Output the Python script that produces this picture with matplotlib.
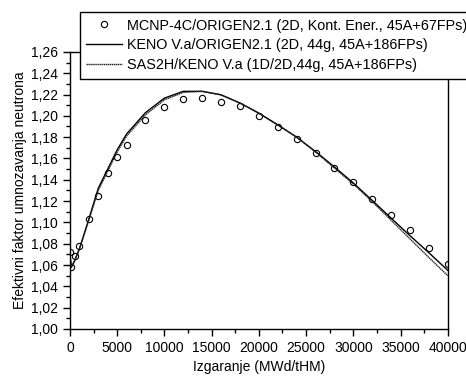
import matplotlib
matplotlib.use("Agg")
import matplotlib.pyplot as plt
from matplotlib.ticker import MultipleLocator, FuncFormatter

plt.rcParams['font.family'] = ['Liberation Sans', 'DejaVu Sans']

# burnup points (MWd/tHM)
burnup = [0, 150, 500, 1000, 2000, 3000, 4000, 5000, 6000, 8000, 10000, 12000,
          14000, 16000, 18000, 20000, 22000, 24000, 26000, 28000, 30000, 32000,
          34000, 36000, 38000, 40000]

# MCNP-4C/ORIGEN2.1
k_mcnp = [1.0726, 1.058, 1.0685, 1.078, 1.1035, 1.125, 1.146, 1.161, 1.173,
          1.196, 1.208, 1.216, 1.2166, 1.2134, 1.2088, 1.2002, 1.1897, 1.1785,
          1.165, 1.151, 1.1377, 1.1218, 1.107, 1.0925, 1.0758, 1.0607]

# KENO V.a/ORIGEN2.1
k_keno = [1.070, 1.058, 1.064, 1.075, 1.103, 1.132, 1.150, 1.168, 1.183,
          1.203, 1.2166, 1.223, 1.223, 1.2197, 1.212, 1.2025, 1.1915, 1.180,
          1.1665, 1.152, 1.137, 1.1206, 1.104, 1.0875, 1.0715, 1.055]

# SAS2H/KENO V.a
k_sas = [1.070, 1.058, 1.064, 1.075, 1.102, 1.130, 1.148, 1.166, 1.181,
         1.201, 1.2150, 1.222, 1.223, 1.2197, 1.212, 1.2025, 1.1915, 1.180,
         1.1660, 1.151, 1.136, 1.1195, 1.102, 1.0845, 1.067, 1.050]

fig = plt.figure(figsize=(4.66, 3.76), dpi=100)
ax = fig.add_axes([0.150, 0.125, 0.811, 0.737])

ax.plot(burnup, k_mcnp, 'o', mfc='none', mec='black', ms=4.5, mew=0.8,
        label='MCNP-4C/ORIGEN2.1 (2D, Kont. Ener., 45A+67FPs)')
ax.plot(burnup, k_keno, '-', color='black', lw=1.0,
        label='KENO V.a/ORIGEN2.1 (2D, 44g, 45A+186FPs)')
ax.plot(burnup, k_sas, color='#222222', lw=1.0, ls=(0, (1, 0.4)),
        label='SAS2H/KENO V.a (1D/2D,44g, 45A+186FPs)')

ax.set_xlim(0, 40000)
ax.set_ylim(1.00, 1.26)
ax.xaxis.set_major_locator(MultipleLocator(5000))
ax.xaxis.set_minor_locator(MultipleLocator(2500))
ax.yaxis.set_major_locator(MultipleLocator(0.02))
ax.yaxis.set_minor_locator(MultipleLocator(0.01))
ax.yaxis.set_major_formatter(FuncFormatter(lambda v, p: ('%.2f' % v).replace('.', ',')))
ax.tick_params(which='major', direction='out', length=5, width=1, labelsize=10)
ax.tick_params(which='minor', direction='out', length=3, width=1)
for s in ax.spines.values():
    s.set_linewidth(1.0)

ax.set_xlabel('Izgaranje (MWd/tHM)', fontsize=10)
ax.set_ylabel('Efektivni faktor umnozavanja neutrona', fontsize=10, labelpad=3)

leg = ax.legend(loc='upper left', bbox_to_anchor=(0.171, 0.968),
                bbox_transform=fig.transFigure, fontsize=10.4, frameon=True,
                fancybox=False, framealpha=1, edgecolor='black',
                handlelength=2.5, handletextpad=0.3, borderpad=0.45,
                labelspacing=0.4, borderaxespad=0)
leg.get_frame().set_linewidth(1.0)

fig.savefig('out.png', dpi=100)
